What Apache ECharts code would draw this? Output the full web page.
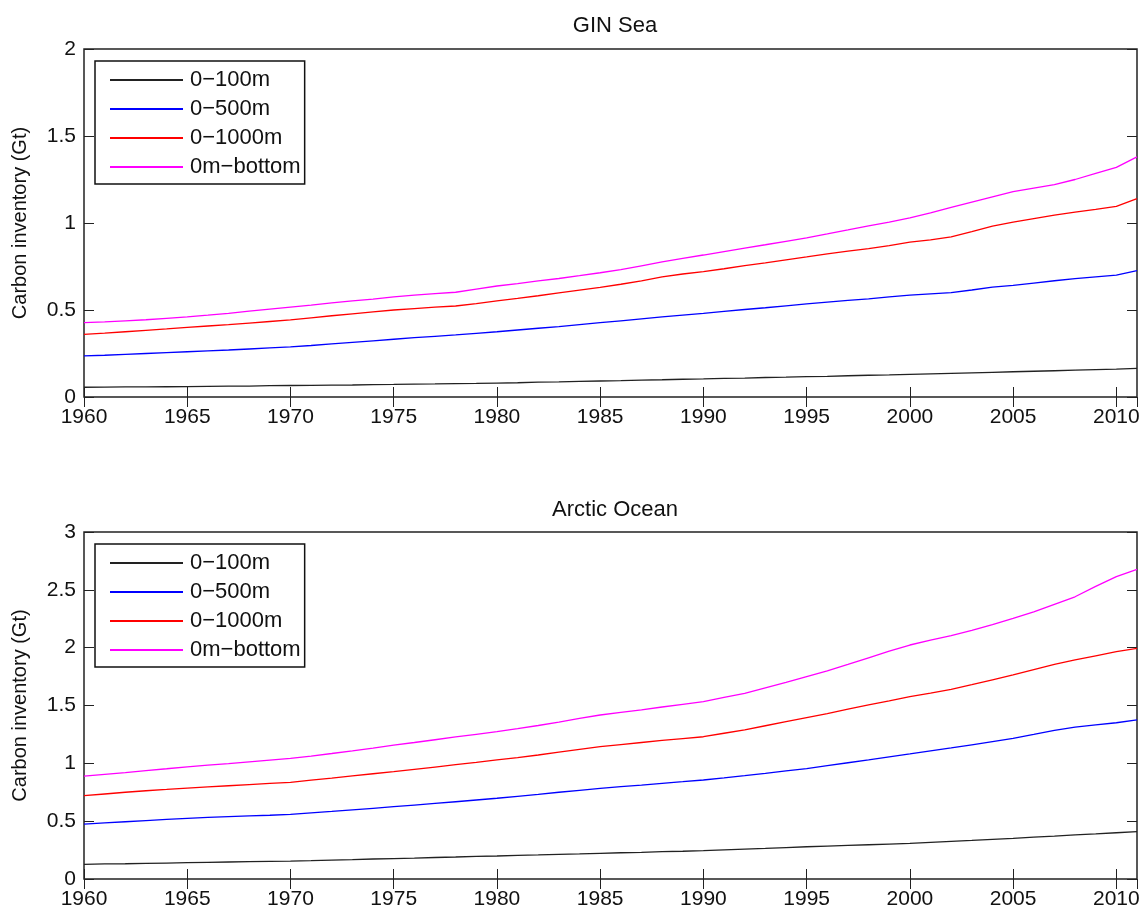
<!DOCTYPE html>
<html>
<head>
<meta charset="utf-8">
<script src="https://cdn.jsdelivr.net/npm/echarts@6/dist/echarts.min.js"></script>
<style>
html, body { margin: 0; padding: 0; background: #fff; }
#chart { width: 1146px; height: 914px; }
</style>
</head>
<body>
<div id="chart"></div>
<script>
// years 1960..2011
var years = [];
for (var y = 1960; y <= 2011; y++) years.push(y);

var seriesNames = ['0\u2212100m', '0\u2212500m', '0\u22121000m', '0m\u2212bottom'];
var seriesColors = ['#222222', '#0000ff', '#ff0000', '#ff00ff'];

// GIN Sea (Gt)
var gin100 = [0.056, 0.057, 0.058, 0.058, 0.059, 0.060, 0.061, 0.062, 0.063, 0.065, 0.066, 0.067, 0.068, 0.069, 0.071, 0.072, 0.074, 0.075, 0.077, 0.078, 0.080,
  0.082, 0.085, 0.087, 0.090, 0.092, 0.094, 0.097, 0.099, 0.102, 0.104, 0.107, 0.109, 0.112, 0.114, 0.117, 0.119, 0.122, 0.125, 0.127, 0.130,
  0.133, 0.136, 0.139, 0.142, 0.145, 0.148, 0.151, 0.154, 0.157, 0.160, 0.165];
var gin500 = [0.236, 0.240, 0.245, 0.250, 0.255, 0.260, 0.265, 0.270, 0.276, 0.282, 0.288, 0.296, 0.305, 0.314, 0.323, 0.332, 0.341, 0.349, 0.357, 0.366, 0.375,
  0.385, 0.395, 0.405, 0.416, 0.427, 0.438, 0.449, 0.460, 0.471, 0.481, 0.492, 0.503, 0.513, 0.524, 0.535, 0.545, 0.555, 0.564, 0.575, 0.586,
  0.593, 0.600, 0.615, 0.632, 0.642, 0.655, 0.668, 0.680, 0.690, 0.700, 0.726];
var gin1000 = [0.360, 0.367, 0.375, 0.383, 0.391, 0.400, 0.408, 0.416, 0.425, 0.434, 0.443, 0.455, 0.467, 0.478, 0.489, 0.500, 0.508, 0.516, 0.523, 0.537, 0.553,
  0.567, 0.582, 0.598, 0.614, 0.630, 0.648, 0.668, 0.690, 0.707, 0.720, 0.737, 0.755, 0.771, 0.788, 0.805, 0.823, 0.838, 0.853, 0.870, 0.890,
  0.903, 0.920, 0.950, 0.982, 1.005, 1.025, 1.045, 1.063, 1.078, 1.095, 1.140];
var ginBottom = [0.427, 0.432, 0.438, 0.444, 0.452, 0.460, 0.470, 0.481, 0.493, 0.505, 0.517, 0.528, 0.541, 0.553, 0.563, 0.576, 0.585, 0.594, 0.602, 0.620, 0.638,
  0.652, 0.667, 0.681, 0.697, 0.714, 0.732, 0.754, 0.776, 0.797, 0.816, 0.836, 0.856, 0.875, 0.895, 0.915, 0.937, 0.960, 0.984, 1.005, 1.030,
  1.058, 1.090, 1.120, 1.150, 1.180, 1.200, 1.220, 1.250, 1.285, 1.320, 1.380];

// Arctic Ocean (Gt)
var arc100 = [0.127, 0.130, 0.132, 0.135, 0.138, 0.141, 0.144, 0.147, 0.150, 0.152, 0.155, 0.159, 0.164, 0.168, 0.173, 0.177, 0.181, 0.186, 0.190, 0.195, 0.199,
  0.204, 0.208, 0.213, 0.217, 0.222, 0.227, 0.231, 0.236, 0.240, 0.245, 0.252, 0.259, 0.265, 0.272, 0.279, 0.285, 0.291, 0.296, 0.302, 0.308,
  0.317, 0.326, 0.334, 0.343, 0.352, 0.362, 0.371, 0.381, 0.390, 0.400, 0.409];
var arc500 = [0.475, 0.485, 0.495, 0.505, 0.515, 0.525, 0.532, 0.539, 0.545, 0.551, 0.558, 0.571, 0.584, 0.598, 0.611, 0.625, 0.639, 0.653, 0.668, 0.683, 0.698,
  0.715, 0.732, 0.750, 0.767, 0.784, 0.798, 0.812, 0.827, 0.841, 0.856, 0.874, 0.893, 0.913, 0.934, 0.955, 0.980, 1.005, 1.030, 1.056, 1.081,
  1.107, 1.133, 1.160, 1.188, 1.216, 1.250, 1.285, 1.313, 1.333, 1.351, 1.375];
var arc1000 = [0.720, 0.735, 0.750, 0.763, 0.774, 0.786, 0.796, 0.806, 0.816, 0.826, 0.836, 0.854, 0.872, 0.891, 0.910, 0.928, 0.948, 0.968, 0.988, 1.008, 1.029,
  1.050, 1.072, 1.096, 1.120, 1.144, 1.162, 1.180, 1.198, 1.214, 1.230, 1.260, 1.290, 1.325, 1.360, 1.395, 1.430, 1.468, 1.505, 1.540, 1.576,
  1.607, 1.640, 1.680, 1.722, 1.764, 1.810, 1.856, 1.895, 1.930, 1.965, 1.994];
var arcBottom = [0.890, 0.905, 0.920, 0.937, 0.953, 0.970, 0.984, 0.998, 1.013, 1.028, 1.043, 1.063, 1.085, 1.108, 1.132, 1.158, 1.180, 1.204, 1.228, 1.251, 1.274,
  1.300, 1.327, 1.357, 1.388, 1.418, 1.440, 1.462, 1.487, 1.510, 1.533, 1.570, 1.605, 1.652, 1.700, 1.750, 1.800, 1.855, 1.912, 1.970, 2.023,
  2.065, 2.105, 2.150, 2.200, 2.254, 2.310, 2.375, 2.440, 2.530, 2.614, 2.677];

var ginData = [gin100, gin500, gin1000, ginBottom];
var arcData = [arc100, arc500, arc1000, arcBottom];

var font = 'Liberation Sans, Arial, Helvetica, sans-serif';
var axisColor = '#222';

function pairs(arr) {
    return years.map(function (yr, i) { return [yr, arr[i]]; });
}

function xAxes(grid, top) {
    return {
        type: 'value',
        gridIndex: grid,
        position: top ? 'top' : 'bottom',
        min: 1960,
        max: 2011,
        interval: 5,
        axisLine: { show: false },
        axisTick: { show: true, inside: true, length: 10, lineStyle: { color: axisColor, width: 1 } },
        axisLabel: {
            show: !top,
            showMaxLabel: false,
            margin: 10,
            color: '#111',
            fontSize: 21,
            fontFamily: font,
            formatter: function (v) { return String(v); }
        },
        splitLine: { show: false }
    };
}

function yAxes(grid, right, max) {
    return {
        type: 'value',
        gridIndex: grid,
        position: right ? 'right' : 'left',
        min: 0,
        max: max,
        interval: 0.5,
        name: right ? '' : 'Carbon inventory (Gt)',
        nameLocation: 'middle',
        nameRotate: 90,
        nameGap: 54,
        nameTextStyle: { color: '#111', fontSize: 20, fontFamily: font },
        axisLine: { show: false },
        axisTick: { show: true, inside: true, length: 10, lineStyle: { color: axisColor, width: 1 } },
        axisLabel: {
            show: !right,
            margin: 8,
            color: '#111',
            fontSize: 21,
            fontFamily: font
        },
        splitLine: { show: false }
    };
}

function legend(top) {
    return {
        data: seriesNames,
        orient: 'vertical',
        left: 95,
        top: top,
        icon: 'rect',
        itemWidth: 73,
        itemHeight: 2,
        itemGap: 7,
        padding: [8, 4, 6, 15],
        backgroundColor: '#fff',
        borderColor: '#111',
        borderWidth: 1.5,
        borderRadius: 0,
        selectedMode: false,
        textStyle: { color: '#111', fontSize: 22, lineHeight: 22, fontFamily: font, padding: [0, 0, 0, 2] }
    };
}

var series = [];
[ginData, arcData].forEach(function (group, g) {
    group.forEach(function (arr, i) {
        series.push({
            name: seriesNames[i],
            type: 'line',
            xAxisIndex: g * 2,
            yAxisIndex: g * 2,
            data: pairs(arr),
            showSymbol: false,
            symbol: 'none',
            smooth: false,
            color: seriesColors[i],
            lineStyle: { color: seriesColors[i], width: 1.3 },
            z: 2 + i,
            animation: false
        });
    });
});

var myChart = echarts.init(document.getElementById('chart'));
var option = {
    backgroundColor: '#fff',
    animation: false,
    title: [{
        text: 'GIN Sea',
        left: 610,
        top: 10,
        textAlign: 'center',
        textStyle: { color: '#111', fontSize: 22, fontWeight: 'normal', fontFamily: font }
    }, {
        text: 'Arctic Ocean',
        left: 610,
        top: 494,
        textAlign: 'center',
        textStyle: { color: '#111', fontSize: 22, fontWeight: 'normal', fontFamily: font }
    }],
    legend: [legend(61), legend(544)],
    grid: [{
        left: 84, right: 9, top: 49, height: 348,
        show: true, borderColor: axisColor, borderWidth: 1.5, backgroundColor: 'transparent'
    }, {
        left: 84, right: 9, top: 532, height: 347,
        show: true, borderColor: axisColor, borderWidth: 1.5, backgroundColor: 'transparent'
    }],
    xAxis: [xAxes(0, false), xAxes(0, true), xAxes(1, false), xAxes(1, true)],
    yAxis: [yAxes(0, false, 2), yAxes(0, true, 2), yAxes(1, false, 3), yAxes(1, true, 3)],
    series: series
};
myChart.clear();
myChart.setOption(option);
</script>
</body>
</html>
